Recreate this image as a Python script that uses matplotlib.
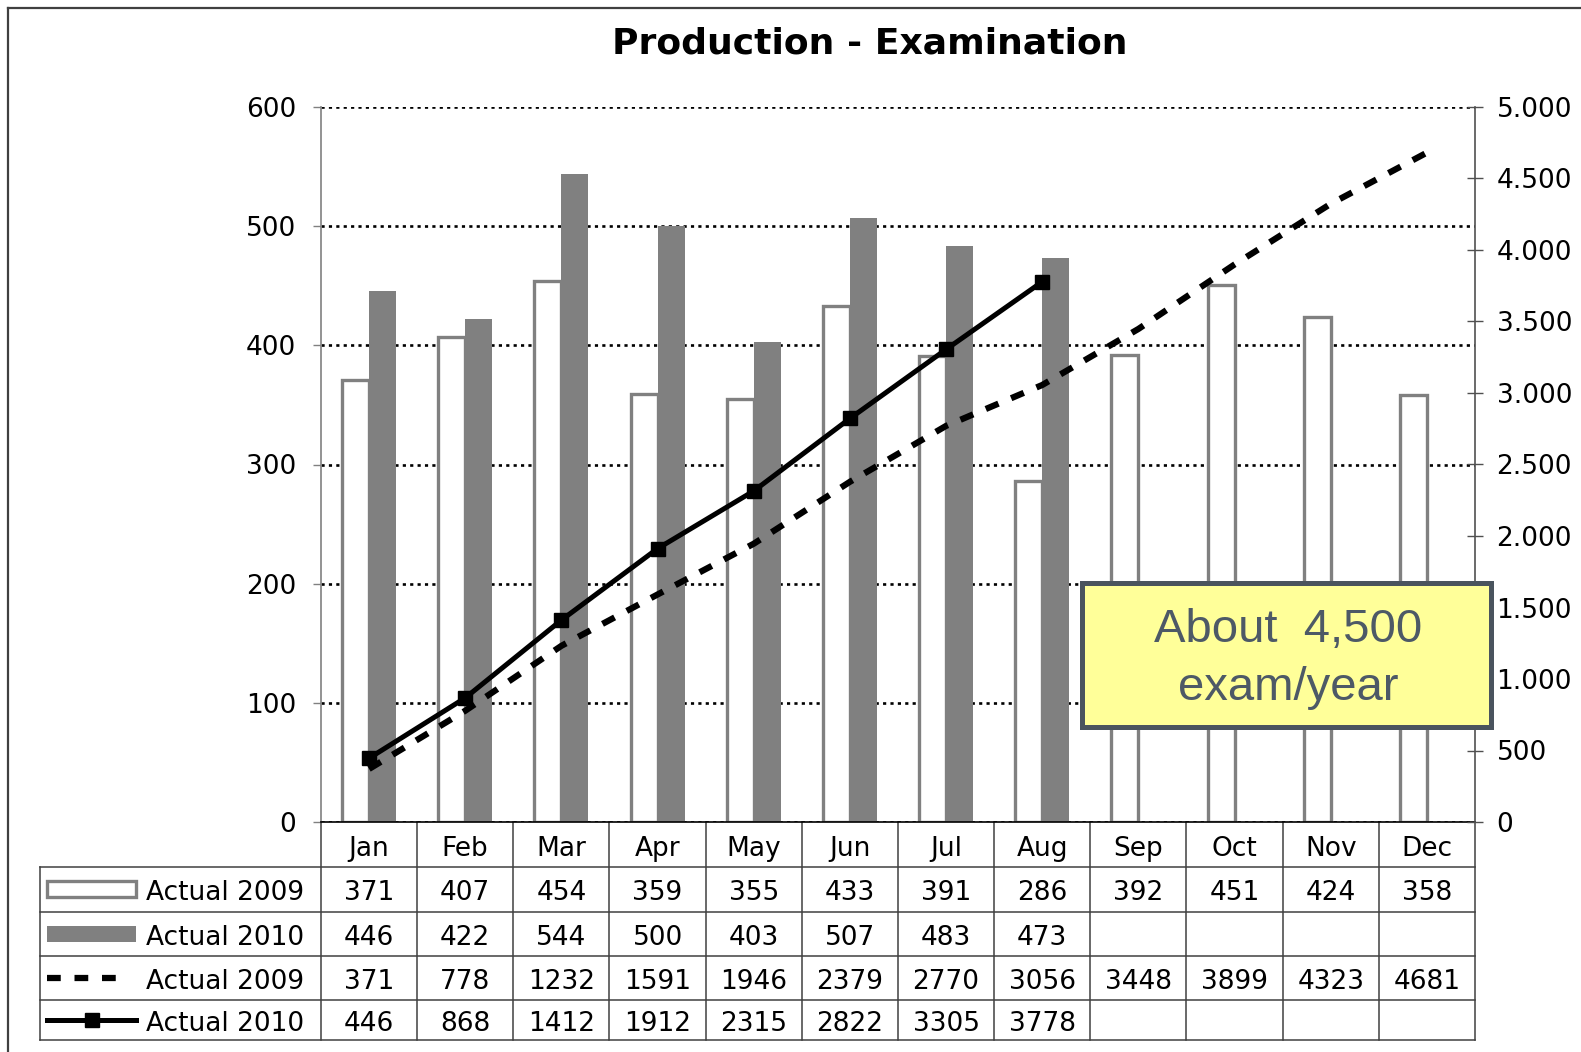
import numpy as np
import matplotlib
matplotlib.use('Agg')
import matplotlib.pyplot as plt
from matplotlib.patches import Rectangle
from matplotlib.lines import Line2D
from matplotlib.ticker import FuncFormatter
from matplotlib.transforms import blended_transform_factory

# data
months = ['Jan', 'Feb', 'Mar', 'Apr', 'May', 'Jun', 'Jul', 'Aug', 'Sep', 'Oct', 'Nov', 'Dec']
act2009 = [371, 407, 454, 359, 355, 433, 391, 286, 392, 451, 424, 358]
act2010 = [446, 422, 544, 500, 403, 507, 483, 473]
cum2009 = [371, 778, 1232, 1591, 1946, 2379, 2770, 3056, 3448, 3899, 4323, 4681]
cum2010 = [446, 868, 1412, 1912, 2315, 2822, 3305, 3778]
row_labels = ['Actual 2009', 'Actual 2010', 'Actual 2009', 'Actual 2010']

W, H = 1581, 1052
fig = plt.figure(figsize=(W / 100, H / 100), dpi=100)
ax = fig.add_axes([321 / W, 1 - 822 / H, 1154 / W, 715 / H])

gray = '#808080'
x = np.arange(len(months))
x10 = np.arange(len(act2010))

#bars
ax.bar(x - 0.14, act2009, 0.28, color='white', edgecolor=gray, linewidth=2.4, zorder=2)
ax.bar(x10 + 0.14, act2010, 0.28, color=gray, zorder=2)
ax.set_xlim(-0.5, 11.5)
ax.set_ylim(0, 600)
ax.set_yticks(range(0, 601, 100))
ax.grid(axis='y', color='black', linestyle=(0, (1.2, 1.6)), linewidth=1.9)
ax.set_axisbelow(True)
ax.set_xticks([])
ax.spines['top'].set_visible(False)
ax.spines['right'].set_visible(False)
ax.spines['left'].set_color(gray)
ax.spines['left'].set_linewidth(1.2)
ax.spines['bottom'].set_color('black')
ax.spines['bottom'].set_linewidth(1.2)
ax.tick_params(axis='y', labelsize=19, length=6, width=1, color=gray, pad=12)

#cumulative lines on right axis
ax2 = ax.twinx()
ax2.set_ylim(0, 5000)
ax2.set_yticks(range(0, 5001, 500))
ax2.yaxis.set_major_formatter(FuncFormatter(lambda v, p: f'{int(v):,}'.replace(',', '.')))
ax2.plot(x, cum2009, color='black', lw=4.5, linestyle=(0, (2.2, 2.2)), zorder=3)
ax2.plot(x10, cum2010, color='black', lw=3.6, marker='s', markersize=10, zorder=4)
for s in ['top', 'left', 'bottom']:
    ax2.spines[s].set_visible(False)
ax2.spines['right'].set_color('#505050')
ax2.spines['right'].set_linewidth(1.2)
ax2.tick_params(axis='y', labelsize=19, direction='inout', length=11, width=1, color='#505050', pad=10)

#data table under the plot
rows_y = [0, -45 / 715, -89.5 / 715, -134 / 715, -178 / 715, -218 / 715]
tr = blended_transform_factory(ax.transData, ax.transAxes)
line_c = '#404040'
leg_left = (40 - 321) / 1154
for yy in rows_y[1:]:
    ax.add_line(Line2D([leg_left, 1], [yy, yy], transform=ax.transAxes, color=line_c, lw=1.1, clip_on=False))
ax.add_line(Line2D([leg_left, leg_left], [rows_y[1], rows_y[-1]], transform=ax.transAxes,
                   color=line_c, lw=1.1, clip_on=False))
for b in np.arange(-0.5, 12, 1):
    ax.add_line(Line2D([b, b], [0, rows_y[-1]], transform=tr, color=line_c, lw=1.1, clip_on=False))

def mid(i):
    return (rows_y[i] + rows_y[i + 1]) / 2

dy = -4 / 715  # text sits a little low in the cells
for i, m in enumerate(months):
    ax.text(i, mid(0) + dy, m, transform=tr, ha='center', va='center', fontsize=19)
table_rows = [act2009, act2010, cum2009, cum2010]
for r, vals in enumerate(table_rows):
    for i, v in enumerate(vals):
        ax.text(i, mid(r + 1) + dy, str(v), transform=tr, ha='center', va='center', fontsize=19)
    ax.text((146 - 321) / 1154, mid(r + 1) + dy, row_labels[r], transform=ax.transAxes,
            ha='left', va='center', fontsize=19)

#legend keys
k0, k1 = (47 - 321) / 1154, (136 - 321) / 1154
kh = 16 / 715
ax.add_patch(Rectangle((k0, mid(1) - kh / 2), k1 - k0, kh, transform=ax.transAxes,
                       facecolor='white', edgecolor=gray, lw=2.4, clip_on=False))
ax.add_patch(Rectangle((k0, mid(2) - kh / 2), k1 - k0, kh, transform=ax.transAxes,
                       facecolor=gray, edgecolor='none', clip_on=False))
ax.add_line(Line2D([k0, (126 - 321) / 1154], [mid(3), mid(3)], transform=ax.transAxes, color='black',
                   lw=4.5, linestyle=(0, (2.2, 2.2)), clip_on=False))
ax.add_line(Line2D([k0, k1], [mid(4), mid(4)], transform=ax.transAxes, color='black', lw=3.6,
                   clip_on=False))
ax.add_line(Line2D([(k0 + k1) / 2], [mid(4)], transform=ax.transAxes, color='black', marker='s',
                   markersize=10, clip_on=False))

#title
fig.text(870 / W, 1 - 44 / H, 'Production - Examination', ha='center', va='center',
         fontsize=26, fontweight='bold')

#callout box
box = Rectangle((1082 / W, 1 - 727 / H), 409 / W, 144 / H, transform=fig.transFigure,
                facecolor='#ffff99', edgecolor='#4a545e', lw=3.6, zorder=5)
fig.add_artist(box)
fig.text(1288 / W, 1 - 630 / H, 'About  4,500', ha='center', va='center', fontsize=34,
         family='Liberation Sans', color='#4d5966', zorder=6)
fig.text(1288 / W, 1 - 688 / H, 'exam/year', ha='center', va='center', fontsize=34,
         family='Liberation Sans', color='#4d5966', zorder=6)

#outer frame
fig.add_artist(Line2D([8 / W, 1], [1 - 8 / H, 1 - 8 / H], transform=fig.transFigure, color='#404040', lw=1.6))
fig.add_artist(Line2D([8 / W, 8 / W], [0, 1 - 8 / H], transform=fig.transFigure, color='#404040', lw=1.6))

plt.savefig('out.png', dpi=100)
